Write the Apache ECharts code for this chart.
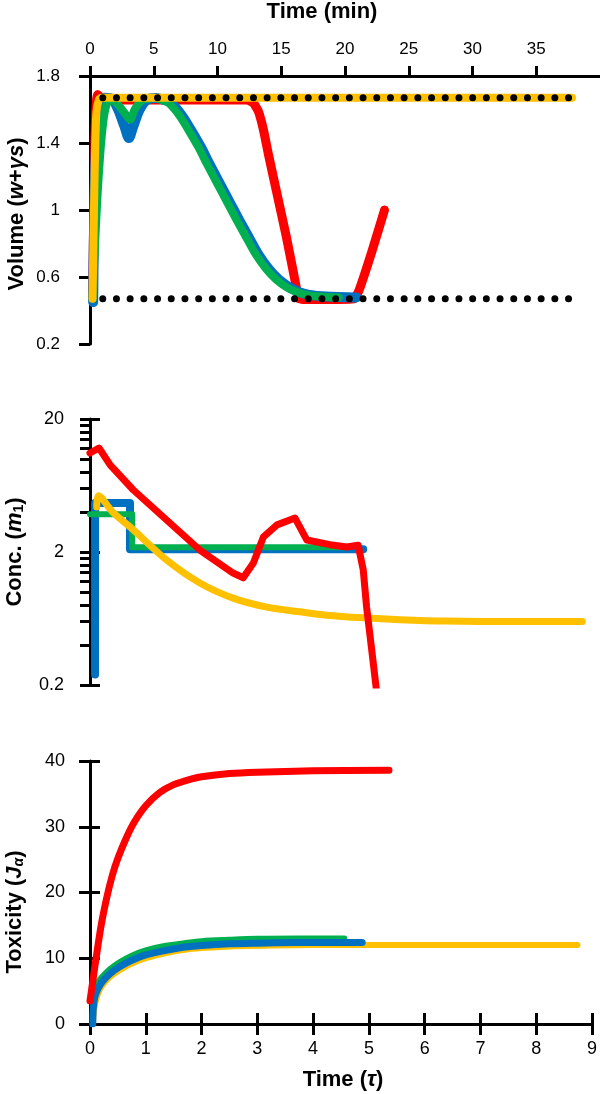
<!DOCTYPE html>
<html>
<head>
<meta charset="utf-8">
<script src="https://cdn.jsdelivr.net/npm/echarts@6/dist/echarts.min.js"></script>
<style>
html, body { margin: 0; padding: 0; background: #fff; }
#chart { width: 600px; height: 1094px; }
</style>
</head>
<body>
<div id="chart"></div>
<script>
// ---- values ----
// top panel: volume (w+γs) against time in minutes, [min, value]
var volRed = [[0.2,0.47],[0.3,1.0],[0.4,1.45],[0.5,1.65],[0.6,1.69],[0.8,1.675],[1.3,1.657],[12.3,1.657],[12.8,1.64],[13.2,1.59],[13.6,1.48],[14.0,1.33],[14.6,1.12],[15.4,0.84],[16.0,0.61],[16.4,0.47],[17.0,0.465],[20.7,0.47],[21.1,0.52],[22.1,0.75],[23.1,1.0]];
var volBlue = [[0.25,0.45],[0.3,0.8],[0.4,1.2],[0.55,1.5],[0.8,1.63],[1.2,1.67],[1.7,1.665],[2.2,1.6],[2.7,1.5],[3.05,1.43],[3.4,1.5],[3.9,1.6],[4.5,1.66],[5.2,1.668],[5.7,1.66],[6.35,1.64],[7.2,1.565],[7.9,1.48],[8.7,1.375],[9.4,1.27],[10.2,1.155],[11.0,1.04],[11.7,0.94],[12.5,0.83],[13.2,0.735],[14.0,0.65],[14.8,0.585],[15.6,0.54],[16.4,0.51],[17.1,0.495],[18.5,0.483],[20.9,0.478]];
var volGreen = [[0.2,0.47],[0.4,0.8],[0.6,1.1],[0.8,1.33],[1.0,1.5],[1.2,1.6],[1.5,1.655],[1.9,1.65],[2.4,1.61],[3.0,1.55],[3.15,1.54],[3.5,1.6],[4.0,1.65],[4.5,1.665],[5.0,1.668],[5.5,1.66],[6.15,1.64],[7.0,1.565],[7.7,1.48],[8.5,1.375],[9.2,1.27],[10.0,1.155],[10.8,1.04],[11.5,0.94],[12.3,0.83],[13.0,0.735],[13.8,0.65],[14.6,0.585],[15.4,0.54],[16.2,0.51],[16.9,0.495],[18.0,0.483],[19.5,0.478]];
var volYellow = [[0.2,0.47],[0.3,0.95],[0.4,1.35],[0.5,1.58],[0.7,1.66],[0.9,1.67],[37.8,1.67]];
var volUpper = [[1.0,1.67],[38.3,1.67]];
var volLower = [[1.0,0.47],[38.3,0.47]];

// middle panel: concentration m1 (log) against τ
var concRed = [[0,11.1],[0.16,12.1],[0.36,9.0],[0.77,5.85],[1.36,3.48],[1.95,2.07],[2.54,1.39],[2.72,1.28],[2.9,1.65],[3.08,2.6],[3.32,3.2],[3.64,3.6],[3.85,2.46],[4.26,2.27],[4.56,2.18],[4.76,2.25],[4.85,1.47],[4.91,0.77],[5.0,0.37],[5.08,0.19]];
var concBlue = [[0.09,0.24],[0.09,4.67],[0.71,4.67],[0.71,2.1],[4.85,2.1]];
var concGreen = [[0,3.85],[0.75,3.85],[0.75,2.17],[4.53,2.17]];
var concYellow = [[0.12,4.36],[0.15,5.3],[0.4,4.0],[0.77,2.93],[1.36,1.74],[1.95,1.17],[2.54,0.9],[3.14,0.77],[3.73,0.71],[4.2,0.67],[4.85,0.64],[5.5,0.62],[6.33,0.605],[7.5,0.6],[8.74,0.6]];

// bottom panel: toxicity J_alpha against τ
var toxRed = [[0,3.5],[0.05,6.5],[0.1,9.5],[0.2,15],[0.3,19.2],[0.4,22.6],[0.5,25.2],[0.65,28.3],[0.8,30.8],[1.0,33.2],[1.25,35.2],[1.5,36.4],[1.75,37.1],[2.0,37.6],[2.5,38.1],[3.0,38.3],[4.0,38.5],[5.36,38.6]];
var toxGreen = [[0,3.6],[0.05,4.8],[0.1,5.8],[0.2,7.0],[0.35,8.3],[0.53,9.4],[0.75,10.4],[1.0,11.2],[1.36,11.9],[1.7,12.3],[2.0,12.6],[2.5,12.8],[3.0,12.95],[3.73,13.0],[4.56,13.0]];
var toxBlue = [[0.05,0],[0.06,2.5],[0.1,4.5],[0.2,6.2],[0.35,7.6],[0.53,8.7],[0.75,9.7],[1.0,10.5],[1.36,11.2],[1.7,11.7],[2.0,11.95],[2.5,12.2],[3.0,12.3],[3.73,12.4],[4.88,12.4]];
var toxYellow = [[0.05,0],[0.08,2.5],[0.12,4.0],[0.2,5.6],[0.35,7.1],[0.53,8.2],[0.75,9.2],[1.0,10.0],[1.36,10.8],[1.7,11.3],[2.0,11.55],[2.5,11.8],[3.0,11.9],[4.0,12.0],[5.0,12.0],[6.5,12.0],[8.74,12.0]];

// tick positions on the log axis
var concMajor = [0.2,2,20];
var concMinor = [0.2,0.4,0.6,0.8,1,1.2,1.4,1.6,1.8,2,4,6,8,10,12,14,16,18,20];

var RED = '#FF0000', BLUE = '#0070C0', GREEN = '#00B050', YELLOW = '#FFC000';
var FONT = "'Liberation Sans', Arial, sans-serif";

var axLine = {show: true, onZero: false, lineStyle: {color: '#000', width: 3}};
var noLine = {show: false, onZero: false};
function ticks(inside, len, vals) {
    var t = {show: true, inside: inside, length: len, lineStyle: {color: '#000', width: 3, type: 'solid'}};
    if (vals) t.customValues = vals;
    return t;
}
function labels(size, margin) {
    return {show: true, fontSize: size, color: '#000', fontFamily: FONT, margin: margin};
}
var RICH = {
    i: {fontSize: 22, fontWeight: 'bold', fontStyle: 'italic', fontFamily: FONT, fill: '#000'},
    sub: {fontSize: 14, fontWeight: 'bold', fontFamily: FONT, fill: '#000', verticalAlign: 'bottom', padding: [8, 0, 0, 0]},
    subi: {fontSize: 14, fontWeight: 'bold', fontStyle: 'italic', fontFamily: FONT, fill: '#000', verticalAlign: 'bottom', padding: [8, 0, 0, 0]}
};
// axis titles as plain text elements
function title(text, x, y, rotate) {
    return {type: 'text', x: x, y: y, rotation: rotate ? Math.PI / 2 : 0, z: 100, silent: true,
        style: {text: text, fontSize: 22, fontWeight: 'bold', fontFamily: FONT, fill: '#000',
            align: 'center', verticalAlign: 'middle', rich: RICH}};
}
function line(data, xi, yi, color, width, smooth) {
    return {type: 'line', xAxisIndex: xi, yAxisIndex: yi, data: data, symbol: 'none',
        smooth: smooth || false,
        lineStyle: {color: color, width: width, cap: 'round', join: 'round'}};
}
function dots(data) {
    return {type: 'line', xAxisIndex: 0, yAxisIndex: 0, data: data, symbol: 'none',
        lineStyle: {color: '#000', width: 7, type: [0, 13.7], cap: 'round'}};
}

var chart = echarts.init(document.getElementById('chart'));
var topLabels = labels(17, 18);
topLabels.showMaxLabel = false;
var option = {
    animation: false,
    grid: [
        {left: 90, top: 76, width: 521, height: 268},
        {left: 90, top: 419, width: 507, height: 266},
        {left: 90, top: 761, width: 507, height: 263}
    ],
    graphic: [
        title('Time (min)', 322, 12, false),
        title('Volume ({i|w}+{i|γs})', 17, 214, true),
        title('Conc. ({i|m}{sub|1})', 15, 552, true),
        title('Toxicity ({i|J}{subi|α})', 15, 912, true),
        title('Time ({i|τ})', 343, 1080, false)
    ],
    xAxis: [
        // the axis runs on past the right edge, as in the figure
        {gridIndex: 0, type: 'value', position: 'top', min: 0, max: 40, interval: 5,
            axisLine: axLine, axisTick: ticks(false, 10), axisLabel: topLabels, splitLine: {show: false}},
        {gridIndex: 1, type: 'value', min: 0, max: 9, show: false},
        {gridIndex: 2, type: 'value', position: 'bottom', min: 0, max: 9, interval: 1,
            axisLine: axLine, axisTick: ticks(false, 11), axisLabel: labels(18, 16), splitLine: {show: false}},
        {gridIndex: 2, type: 'value', position: 'bottom', min: 0, max: 9, interval: 1,
            axisLine: noLine, axisTick: ticks(true, 11), axisLabel: {show: false}, splitLine: {show: false}}
    ],
    yAxis: [
        {gridIndex: 0, type: 'value', position: 'left', min: 0.2, max: 1.8, interval: 0.4,
            axisLine: axLine, axisTick: ticks(false, 11), axisLabel: labels(17, 30), splitLine: {show: false}},
        {gridIndex: 1, type: 'log', logBase: 10, position: 'left', min: 0.2, max: 20,
            axisLine: axLine, axisTick: ticks(false, 10, concMinor),
            axisLabel: {show: true, fontSize: 18, color: '#000', fontFamily: FONT, margin: 26, customValues: concMajor,
                formatter: function (v) { return String(+(+v).toPrecision(3)); }},
            splitLine: {show: false}},
        {gridIndex: 1, type: 'log', logBase: 10, position: 'left', min: 0.2, max: 20,
            axisLine: noLine, axisTick: ticks(true, 10, concMajor), axisLabel: {show: false}, splitLine: {show: false}},
        {gridIndex: 2, type: 'value', position: 'left', min: 0, max: 40, interval: 10,
            axisLine: axLine, axisTick: ticks(false, 11), axisLabel: labels(18, 25), splitLine: {show: false}},
        {gridIndex: 2, type: 'value', position: 'left', min: 0, max: 40, interval: 10,
            axisLine: noLine, axisTick: ticks(true, 10), axisLabel: {show: false}, splitLine: {show: false}}
    ],
    series: [
        // top
        line(volRed, 0, 0, RED, 9, 0.15),
        line(volBlue, 0, 0, BLUE, 10, 0.3),
        line(volGreen, 0, 0, GREEN, 8, 0.3),
        line(volYellow, 0, 0, YELLOW, 8, 0.2),
        dots(volUpper),
        dots(volLower),
        // middle
        line(concBlue, 1, 1, BLUE, 8),
        line(concGreen, 1, 1, GREEN, 6),
        line(concYellow, 1, 1, YELLOW, 7, 0.3),
        line(concRed, 1, 1, RED, 7),
        // bottom
        line(toxYellow, 2, 3, YELLOW, 6, 0.3),
        line(toxGreen, 2, 3, GREEN, 6, 0.3),
        line(toxBlue, 2, 3, BLUE, 7, 0.3),
        line(toxRed, 2, 3, RED, 7, 0.3)
    ]
};
chart.setOption(option);
</script>
</body>
</html>
